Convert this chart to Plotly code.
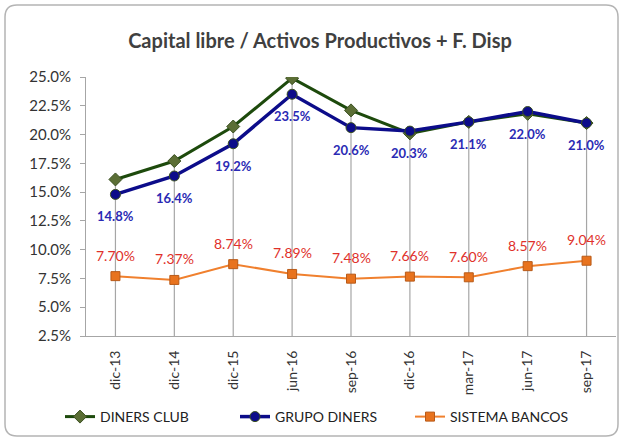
"""Capital libre / Activos Productivos + F. Disp"""
import plotly.graph_objects as go

periodos = ["dic-13", "dic-14", "dic-15", "jun-16", "sep-16",
            "dic-16", "mar-17", "jun-17", "sep-17"]
diners_club = [16.1, 17.7, 20.7, 24.9, 22.1, 20.1, 21.1, 21.8, 21.0]
grupo_diners = [14.8, 16.4, 19.2, 23.5, 20.6, 20.3, 21.1, 22.0, 21.0]
sistema_bancos = [7.70, 7.37, 8.74, 7.89, 7.48, 7.66, 7.60, 8.57, 9.04]

W, H = 620, 441
M = dict(l=86, r=4, t=77, b=105)
Y_MIN, Y_MAX = 2.5, 25.0
FONT = "Lato"

fig = go.Figure()

# lineas de caida desde el punto mas alto hasta el eje
xs, ys = [], []
for p, a, b in zip(periodos, diners_club, grupo_diners):
    xs += [p, p, None]
    ys += [max(a, b), Y_MIN, None]
fig.add_trace(go.Scatter(
    x=xs, y=ys, mode="lines", showlegend=False, hoverinfo="skip",
    line=dict(color="#a6a6a6", width=1.2)
))

fig.add_trace(go.Scatter(
    x=periodos, y=diners_club, mode="lines+markers", name="DINERS CLUB",
    line=dict(color="#1d4a0c", width=3),
    marker=dict(symbol="diamond", size=10, color="#5b6e35",
                line=dict(color="#3a5020", width=1))
))
fig.add_trace(go.Scatter(
    x=periodos, y=grupo_diners, mode="lines+markers", name="GRUPO DINERS",
    line=dict(color="#0c0c8a", width=3.5),
    marker=dict(symbol="circle", size=10, color="#0c0c8a",
                line=dict(color="#3a5020", width=1))
))
fig.add_trace(go.Scatter(
    x=periodos, y=sistema_bancos, mode="lines+markers", name="SISTEMA BANCOS",
    line=dict(color="#f0802e", width=2),
    marker=dict(symbol="square", size=9, color="#e8731e",
                line=dict(color="#b85a18", width=1))
))

anotaciones = []
for p, v in zip(periodos, grupo_diners):
    anotaciones.append(dict(
        x=p, y=v, text=f"<b>{v:.1f}%</b>", showarrow=False, yshift=-22,
        font=dict(family=FONT, size=13, color="#2a2ab4")
    ))
for p, v in zip(periodos, sistema_bancos):
    anotaciones.append(dict(
        x=p, y=v, text=f"{v:.2f}%", showarrow=False, yshift=21,
        font=dict(family=FONT, size=14, color="#e0302a")
    ))

# marco redondeado alrededor del grafico (en coordenadas paper)
pw = W - M["l"] - M["r"]
ph = H - M["t"] - M["b"]


def px_x(v):
    return (v - M["l"]) / pw


def px_y(v):
    return (H - M["b"] - v) / ph


x0, x1, y0, y1, r = 5, 618, 5, 436, 12
path = (
    f"M {px_x(x0 + r)},{px_y(y0)} L {px_x(x1 - r)},{px_y(y0)} "
    f"Q {px_x(x1)},{px_y(y0)} {px_x(x1)},{px_y(y0 + r)} "
    f"L {px_x(x1)},{px_y(y1 - r)} "
    f"Q {px_x(x1)},{px_y(y1)} {px_x(x1 - r)},{px_y(y1)} "
    f"L {px_x(x0 + r)},{px_y(y1)} "
    f"Q {px_x(x0)},{px_y(y1)} {px_x(x0)},{px_y(y1 - r)} "
    f"L {px_x(x0)},{px_y(y0 + r)} "
    f"Q {px_x(x0)},{px_y(y0)} {px_x(x0 + r)},{px_y(y0)} Z"
)

fig.update_layout(
    width=W, height=H,
    margin=M,
    paper_bgcolor="white",
    plot_bgcolor="white",
    font=dict(family=FONT, size=14, color="#333333"),
    title=dict(
        text="<b>Capital libre / Activos Productivos + F. Disp</b>",
        x=320 / W, xanchor="center", y=1 - 41 / H, yanchor="middle",
        font=dict(family=FONT, size=20, color="#404040")
    ),
    xaxis=dict(
        type="category", tickangle=-90, showgrid=False,
        showline=True, linecolor="#a6a6a6", linewidth=1,
        ticks="", ticklabelstandoff=8,
        tickfont=dict(size=14, color="#333333"),
        range=[-0.5, len(periodos) - 0.5]
    ),
    yaxis=dict(
        range=[Y_MIN, Y_MAX], dtick=2.5, tickformat=".1f", ticksuffix="%",
        showgrid=False, zeroline=False,
        showline=True, linecolor="#a6a6a6", linewidth=1,
        ticks="outside", ticklen=5, tickcolor="#a6a6a6", ticklabelstandoff=6,
        tickfont=dict(size=15, color="#333333")
    ),
    legend=dict(
        orientation="h", xref="container", yref="container",
        x=60 / W, xanchor="left", y=1 - 417 / H, yanchor="middle",
        font=dict(family=FONT, size=14, color="#222222"),
        itemwidth=30, entrywidth=130, entrywidthmode="pixels"
    ),
    annotations=anotaciones,
    shapes=[dict(type="path", xref="paper", yref="paper", path=path,
                 line=dict(color="#b4b4b4", width=1.5), layer="below")],
    showlegend=True,
)

fig.write_html("out.html", config={"displayModeBar": False},
               post_script="document.body.style.margin='0';")
